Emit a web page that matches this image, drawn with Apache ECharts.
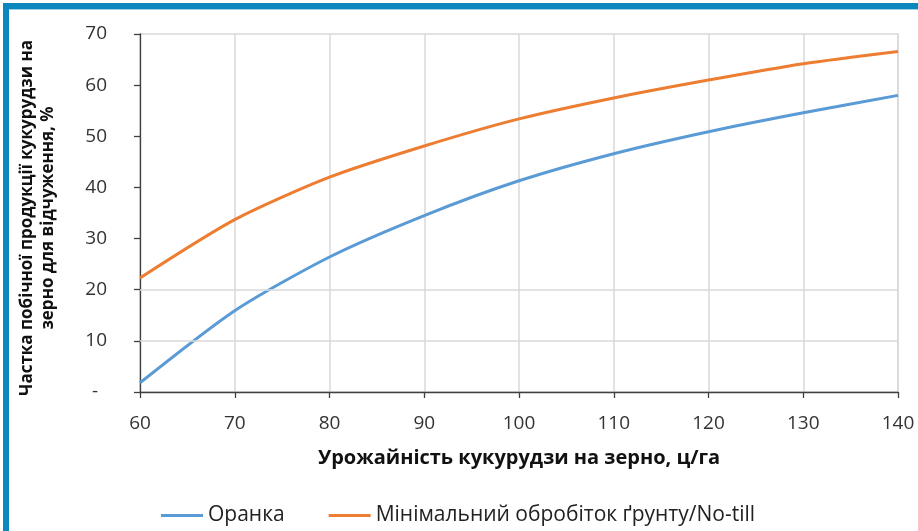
<!DOCTYPE html>
<html>
<head>
<meta charset="utf-8">
<script src="https://cdn.jsdelivr.net/npm/echarts@6.0.0/dist/echarts.min.js"></script>
<style>
  html, body { margin: 0; padding: 0; background: #fff; }
  #chart { width: 918px; height: 531px; }
</style>
</head>
<body>
<div id="chart"></div>
<script>
const yieldValues = [60, 70, 80, 90, 100, 110, 120, 130, 140];
const ploughShare = [1.8, 15.9, 26.4, 34.5, 41.3, 46.6, 50.9, 54.6, 58.0];
const noTillShare = [22.3, 33.7, 42.0, 48.1, 53.4, 57.5, 61.0, 64.2, 66.6];
const seriesNames = ['Оранка', 'Мінімальний обробіток ґрунту/No-till'];
const horizontalGrid = [10, 20];
const xAxisTitle = 'Урожайність кукурудзи на зерно, ц/га';
const yAxisTitle = 'Частка побічної продукції кукурудзи на\nзерно для відчуження, %';

const FONT = '"Open Sans", "Noto Sans", sans-serif';
const chart = echarts.init(document.getElementById('chart'));

function pairs(xs, ys) { return xs.map((x, i) => [x, ys[i]]); }

chart.setOption({
  animation: false,
  backgroundColor: '#ffffff',
  graphic: [
    { type: 'rect', left: 3, top: 3, shape: { width: 915, height: 6 }, style: { fill: '#0a87bd' }, z: 100 },
    { type: 'rect', left: 3, top: 9, shape: { width: 915, height: 1 }, style: { fill: '#9fd0e6' }, z: 100 },
    { type: 'rect', left: 3, top: 3, shape: { width: 6, height: 528 }, style: { fill: '#0a87bd' }, z: 100 }
  ],
  grid: {
    left: 140, right: 20, top: 34, bottom: 139,
    show: true, borderColor: '#d9d9d9', borderWidth: 1.5, backgroundColor: 'transparent'
  },
  legend: {
    bottom: 0,
    left: 156,
    itemWidth: 42,
    itemHeight: 3,
    itemGap: 44,
    icon: 'rect',
    data: seriesNames,
    textStyle: { fontFamily: FONT, fontSize: 21, color: '#222' }
  },
  xAxis: {
    type: 'value',
    min: 60, max: 140, interval: 10,
    name: xAxisTitle,
    nameLocation: 'middle',
    nameGap: 56,
    nameTextStyle: { fontFamily: FONT, fontSize: 20, fontWeight: 'bold', color: '#111' },
    axisLine: { show: true, lineStyle: { color: '#404040', width: 1.3 } },
    axisTick: { show: true, length: 6, lineStyle: { color: '#404040', width: 1.3 } },
    axisLabel: { fontFamily: FONT, fontSize: 19, color: '#333', margin: 22 },
    splitLine: { show: true, lineStyle: { color: '#d9d9d9', width: 1.5 } }
  },
  yAxis: {
    type: 'value',
    min: 0, max: 70, interval: 10,
    name: yAxisTitle,
    nameLocation: 'middle',
    nameGap: 81,
    nameTextStyle: { fontFamily: FONT, fontSize: 17, fontWeight: 'bold', color: '#111', lineHeight: 21, padding: [0, 10, 0, 0] },
    axisLine: { show: true, lineStyle: { color: '#404040', width: 1.3 } },
    axisTick: { show: true, inside: false, length: 6, lineStyle: { color: '#404040', width: 1.3 } },
    axisLabel: {
      fontFamily: FONT, fontSize: 19, color: '#333', margin: 33,
      formatter: v => (v === 0 ? '{dash|-}' : String(v)),
      rich: { dash: { fontFamily: FONT, fontSize: 19, color: '#333', padding: [0, 9, 0, 0] } }
    },
    splitLine: { show: false }
  },
  series: [
    {
      name: 'grid-lines',
      type: 'line',
      data: [],
      z: 1,
      silent: true,
      markLine: {
        silent: true,
        symbol: 'none',
        label: { show: false },
        lineStyle: { color: '#d9d9d9', width: 1.5, type: 'solid' },
        data: horizontalGrid.map(v => ({ yAxis: v }))
      }
    },
    {
      name: seriesNames[0],
      type: 'line',
      z: 3,
      data: pairs(yieldValues, ploughShare),
      smooth: 0.25,
      showSymbol: false,
      lineStyle: { color: '#5b9bd5', width: 3 },
      itemStyle: { color: '#5b9bd5' }
    },
    {
      name: seriesNames[1],
      type: 'line',
      z: 3,
      data: pairs(yieldValues, noTillShare),
      smooth: 0.25,
      showSymbol: false,
      lineStyle: { color: '#ed7d31', width: 3 },
      itemStyle: { color: '#ed7d31' }
    }
  ]
});
</script>
</body>
</html>
